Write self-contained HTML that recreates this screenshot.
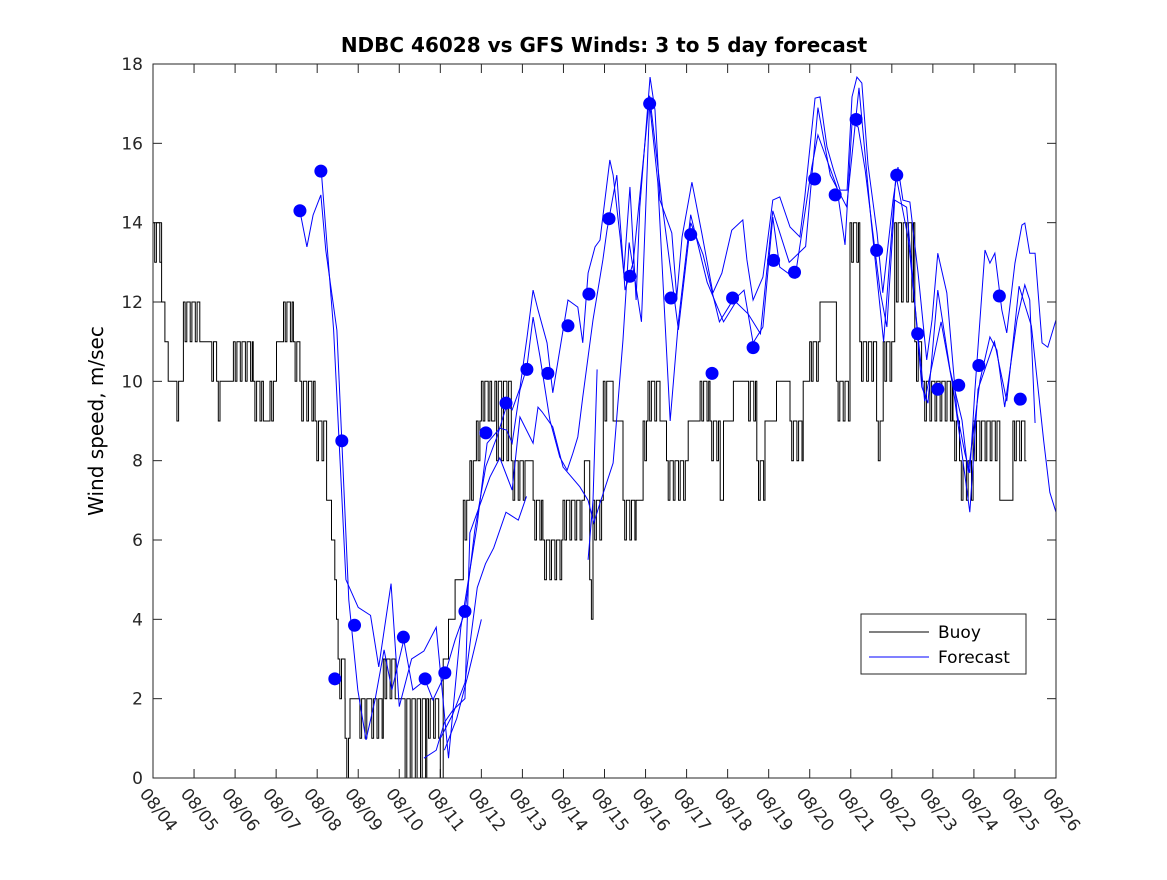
<!DOCTYPE html>
<html><head><meta charset="utf-8"><style>
body{margin:0;background:#fff;font-family:"Liberation Sans","DejaVu Sans",sans-serif}
svg text{font-family:"DejaVu Sans","Liberation Sans",sans-serif}
</style></head><body>
<svg id="c" width="1167" height="875" xmlns="http://www.w3.org/2000/svg">
<rect width="1167" height="875" fill="#fff"/>
<text x="604" y="52" text-anchor="middle" font-size="20" font-weight="bold">NDBC 46028 vs GFS Winds: 3 to 5 day forecast</text>
<text transform="translate(103,421) rotate(-90)" text-anchor="middle" font-size="20">Wind speed, m/sec</text>
<g id="grid"></g><g id="marks"></g>
<rect x="153" y="64" width="903" height="714" fill="none" stroke="#262626" stroke-width="1"/>
<g>
<rect x="861" y="614" width="165" height="60" fill="#fff" stroke="#262626"/>
<line x1="869" y1="632" x2="929" y2="632" stroke="#000"/>
<text x="938" y="638" font-size="17">Buoy</text>
<line x1="869" y1="657" x2="929" y2="657" stroke="#00f"/>
<text x="938" y="663" font-size="17">Forecast</text>
</g>
</svg>
<script>
const xTickLabels=["08/04","08/05","08/06","08/07","08/08","08/09","08/10","08/11","08/12","08/13","08/14","08/15","08/16","08/17","08/18","08/19","08/20","08/21","08/22","08/23","08/24","08/25","08/26"];
const yTicks=[0,2,4,6,8,10,12,14,16,18];
const buoyDays=[0,0.21,0.29,0.37,0.54,0.70,0.74,1.14,1.39,1.55,1.71,1.96,2.44,2.69,2.85,3.01,3.18,3.42,3.58,3.95,4.23,4.35,4.43,4.51,4.68,4.8,5.0,5.29,5.61,5.94,6.1,6.67,7.0,7.07,7.2,7.36,7.56,7.72,7.88,8.0,8.25,8.33,8.73,9.14,9.26,9.5,9.99,10.51,10.64,10.72,10.97,11.09,11.21,11.45,11.77,11.94,12.06,12.39,12.51,13.04,13.33,13.57,13.82,13.9,14.14,14.47,14.71,14.91,15.19,15.52,15.84,16.0,16.25,16.65,16.98,17.22,17.63,17.79,18.07,18.56,18.76,19.49,19.65,19.98,20.63,20.95];
const buoyLo=[13,12,11,10,9,10,11,11,10,9,10,10,9,9,9,11,11,10,9,8,7,6,4,2,0,2,1,1,2,2,0,1,0,3,4,5,6,7,8,9,9,8,7,8,6,5,6,8,4,6,9,10,9,6,7,8,9,9,7,9,9,8,7,9,10,9,7,9,10,8,10,10,12,9,13,10,8,10,12,10,9,8,7,8,7,8];
const buoyHi=[14,12,11,10,10,10,12,11,11,10,10,11,10,9,10,11,12,11,10,9,7,6,5,3,1,2,2,2,3,2,2,2,0,3,4,5,7,8,9,10,9,10,8,8,7,6,7,8,5,7,10,10,9,7,7,9,10,9,8,9,10,9,7,9,10,10,8,9,10,9,10,11,12,10,14,11,9,11,14,11,10,9,8,9,7,9];
const buoyEnd=21.28;
const dotDays=[3.58,4.09,4.6,4.43,4.91,6.1,6.63,7.11,7.6,8.11,8.6,9.11,9.62,10.11,10.62,11.11,11.62,12.1,12.62,13.1,13.62,14.12,14.62,15.12,15.63,16.12,16.62,17.13,17.63,18.12,18.63,19.12,19.63,20.12,20.62,21.13];
const dotVals=[14.3,15.3,8.5,2.5,3.85,3.55,2.5,2.65,4.2,8.7,9.45,10.3,10.2,11.4,12.2,14.1,12.65,17,12.1,13.7,10.2,12.1,10.85,13.05,12.75,15.1,14.7,16.6,13.3,15.2,11.2,9.8,9.9,10.4,12.15,9.55];
const fADays=[3.58,3.75,3.9,4.09,4.21,4.48,4.6,4.77,4.99,5.19,5.41,5.63,5.82,6.11,6.33,6.63,6.82,7.11,7.36,7.6,7.84,8.11,8.38,8.62,8.75,8.94,9.11,9.26,9.38,9.6,9.74,10.11,10.35,10.47,10.6,10.77,10.89,11.13,11.21,11.38,11.47,11.62,11.77,11.86,12.11,12.23,12.35,12.64,12.76,12.89,13.13,13.37,13.64,13.86,14.1,14.37,14.47,14.62,14.86,15.1,15.27,15.52,15.76,15.88,16.13,16.25,16.42,16.58,16.74,16.91,17.03,17.15,17.27,17.42,17.64,17.78,18.03,18.15,18.27,18.44,18.64,18.85,18.98,19.12,19.34,19.59,19.78,19.9,20.02,20.27,20.39,20.51,20.68,20.8,21.0,21.17,21.24,21.36,21.49,21.66,21.8,22.0];
const fAVals=[14.29,13.39,14.19,14.7,13.3,11.29,8.5,4.49,2.22,0.96,1.97,3.23,2.22,3.48,2.22,2.47,1.97,2.6,3.48,4.18,6.25,7.86,8.6,9.4,9.28,9.83,11.09,12.3,11.8,10.97,9.71,12.05,11.87,10.97,12.73,13.39,13.56,15.58,15.2,13.64,12.73,14.9,12.05,14.39,17.67,16.84,14.57,13.74,12.12,13.64,15.02,13.74,12.23,12.73,13.81,14.07,13.06,12.05,12.63,14.57,14.65,13.89,13.64,14.65,17.14,17.17,15.91,15.33,14.82,14.82,17.17,17.67,17.52,15.46,13.74,12.23,14.57,15.4,14.57,14.52,12.73,10.54,11.55,13.23,12.23,9.2,8.19,7.69,9.71,13.31,12.98,13.23,11.8,11.22,12.98,13.94,13.99,13.23,13.23,10.97,10.86,11.55];
const fBDays=[4.1,4.4,4.7,5.0,5.3,5.5,5.8,6.0,6.3,6.6,6.9,7.2,7.5,7.89,8.14,8.45,8.62,8.75,8.94,9.11,9.26,9.43,9.67,9.91,10.09,10.23,10.35,10.47,10.72,10.96,11.06,11.3,11.5,11.7,12.1,12.4,12.8,13.1,13.4,13.8,14.1,14.3,14.4,14.62,14.86,15.1,15.27,15.64,15.83,16.05,16.2,16.42,16.66,16.86,17.03,17.18,17.35,17.71,17.88,18.07,18.36,18.51,18.73,18.88,19.12,19.42,19.71,19.86,20.15,20.39,20.56,20.75,21.05,21.24,21.36,21.49];
const fBVals=[15.3,11.3,5,4.3,4.1,2.8,4.9,1.8,3.0,3.2,3.8,0.5,3.8,6.33,8.44,8.82,8.77,8.44,9.78,10.36,11.62,10.61,9.02,8.09,7.76,8.19,8.6,9.6,11.55,13.06,13.81,15.2,12.3,13.0,17.2,14.5,11.3,14.0,13.2,11.5,12.0,12.2,12.3,10.97,11.37,14.14,12.88,12.6,13.89,15.4,16.21,15.58,14.9,13.44,16.51,16.41,15.33,12.3,11.37,14.57,14.39,12.63,9.86,9.45,12.3,10.28,9.02,7.69,10.03,11.12,10.79,9.35,11.55,12.43,12.05,8.95];
const fCDays=[6.6,6.9,7.1,7.3,7.6,7.72,8.21,8.45,8.75,8.94,9.26,9.38,9.48,9.74,9.99,10.4,10.6,10.74,10.89,11.21,11.45,11.6,11.9,12.1,12.3,12.6,12.8,13.1,13.5,13.9,14.2,14.5,14.8,15.1,15.5,15.9,16.2,16.5,16.9,17.2,17.5,17.8,18.1,18.4,18.8,19.2,19.5,19.9,20.1,20.5,20.8,21.1,21.4,21.7,21.85,22.0];
const fCVals=[0.5,0.7,1.4,1.7,2.0,6.18,7.59,8.07,7.26,9.1,8.44,9.35,9.23,8.85,7.84,7.34,7.0,6.43,6.93,7.94,11.04,13.5,11.5,17.0,15.0,9.0,11.5,14.2,12.5,11.5,12.0,11.7,11.2,14.3,13.0,13.4,16.9,15.2,14.4,17.4,14.0,11.0,15.2,13.6,9.5,11.5,9.8,6.7,9.8,11.0,9.5,12.4,11.4,8.5,7.2,6.7];
const fDDays=[7.0,7.3,7.6,7.9,8.1,8.3,8.6,8.9,9.1];
const fDVals=[1.0,1.6,2.4,4.8,5.4,5.8,6.7,6.5,7.1];
const fEDays=[7.1,7.4,7.7,8.0];
const fEVals=[0.7,1.5,2.7,4.0];
const fFDays=[10.6,10.72,10.82];
const fFVals=[5.5,7.0,10.3];

const X0=153,X1=1056,Y0=778,Y1=64;
const xs=d=>X0+d*(X1-X0)/22, ys=v=>Y0-v*(Y0-Y1)/18;
const NS="http://www.w3.org/2000/svg";
const grid=document.getElementById('grid'), marks=document.getElementById('marks');
function mk(tag,attrs,parent){const e=document.createElementNS(NS,tag);for(const k in attrs)e.setAttribute(k,attrs[k]);parent.appendChild(e);return e;}
xTickLabels.forEach((l,i)=>{const x=xs(i);
 const t=mk('line',{x1:x,y1:Y0,x2:x,y2:Y0-9,stroke:'#262626'},grid);
 
 
 const t2=mk('line',{x1:x,y1:Y1,x2:x,y2:Y1+9,stroke:'#262626'},grid);
 
 
 const tx=mk('text',{transform:`translate(${x-14},${Y0+16}) rotate(52)`,'font-size':17,fill:'#262626'},grid);tx.textContent=l;
 
 
});
yTicks.forEach(v=>{const y=ys(v);
 const t=mk('line',{x1:X0,y1:y,x2:X0+9,y2:y,stroke:'#262626'},grid);
 
 
 const t2=mk('line',{x1:X1,y1:y,x2:X1-9,y2:y,stroke:'#262626'},grid);
 
 
 const tx=mk('text',{x:X0-10,y:y+6,'text-anchor':'end','font-size':17,fill:'#262626'},grid);tx.textContent=v;
 
 
});
// buoy: hourly steps alternating between segment low/high readings
let d='',first=true;
buoyDays.forEach((s,i)=>{const e=i+1<buoyDays.length?buoyDays[i+1]:buoyEnd;let k=0;
 for(let t=s;t<e-1e-6;t+=1/24,k++){const v=(k%3==1)?buoyLo[i]:buoyHi[i];const t2=Math.min(t+1/24,e);
  d+=(first?'M':'L')+xs(t).toFixed(1)+','+ys(v).toFixed(1)+'L'+xs(t2).toFixed(1)+','+ys(v).toFixed(1);first=false;}
});
const bp=mk('path',{d,fill:'none',stroke:'#000','stroke-width':1},marks);


[[fADays,fAVals],[fBDays,fBVals],[fCDays,fCVals],[fDDays,fDVals],[fEDays,fEVals],[fFDays,fFVals]].forEach(([ds,vs],k)=>{
 const p=mk('path',{d:ds.map((dd,i)=>(i?'L':'M')+xs(dd)+','+ys(vs[i])).join(''),fill:'none',stroke:'#00f','stroke-width':1},marks);
 
 
});
dotDays.forEach((dd,i)=>{const c=mk('circle',{cx:xs(dd),cy:ys(dotVals[i]),r:6.5,fill:'#00f'},marks);
 
 
});
</script>
</body></html>
